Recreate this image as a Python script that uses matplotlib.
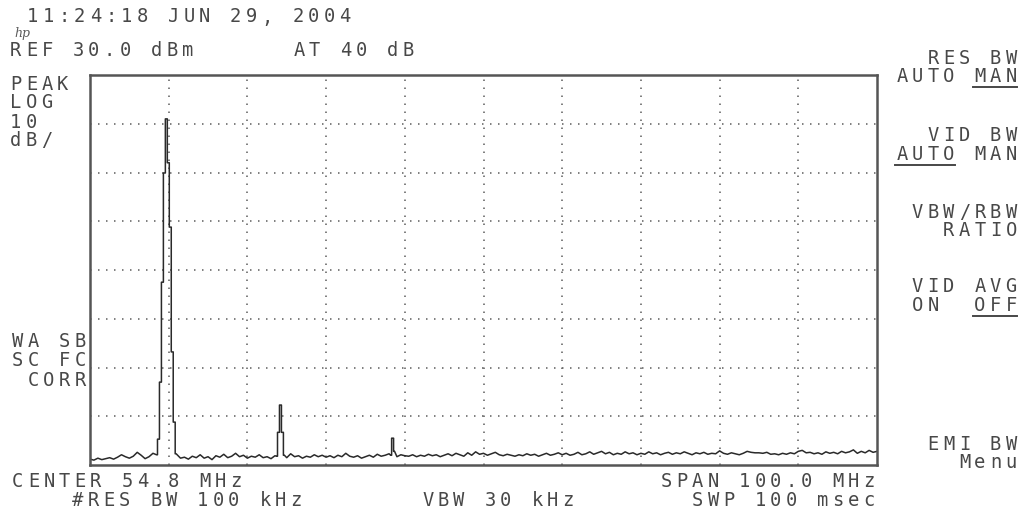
import matplotlib
matplotlib.use("Agg")
import matplotlib.pyplot as plt
from matplotlib.lines import Line2D
import numpy as np

W, H = 1020, 510

# sweep settings
center = 54.8   # MHz
span = 100.0    # MHz
ref_level = 30.0  # dBm
db_div = 10.0
n_vdiv = 8

# noise floor, one reading every 0.5 MHz from 4.8 to 104.8 MHz
noise_step = 0.5
noise = [
    -48.8, -49.0, -48.6, -48.9, -48.7, -48.5, -48.8, -48.4, -47.9, -48.3,
    -48.6, -48.2, -47.4, -48.0, -48.7, -48.3, -47.6, -48.2, -48.5, -48.4,
    -48.5, -48.3, -48.0, -48.6, -48.4, -48.8, -48.2, -48.5, -47.9, -48.6,
    -48.3, -48.9, -48.1, -48.4, -47.8, -48.5, -48.2, -47.6, -48.3, -48.0,
    -48.6, -48.2, -48.4, -47.9, -48.5, -48.3, -48.7, -48.1, -48.4, -48.0,
    -48.5, -47.7, -48.3, -48.1, -48.6, -48.2, -48.4, -47.9, -48.3, -48.0,
    -48.4, -48.1, -48.5, -48.0, -48.3, -47.6, -48.2, -48.4, -48.1, -48.6,
    -48.3, -48.0, -48.4, -47.8, -48.2, -48.0, -47.7, -48.1, -48.3, -47.9,
    -48.1, -48.2, -47.9, -48.3, -48.0, -48.2, -47.8, -48.1, -47.9, -48.3,
    -48.0, -47.7, -48.1, -47.6, -47.9, -48.2, -47.5, -48.0, -47.3, -47.8,
    -47.6, -48.0, -47.7, -47.4, -47.9, -48.1, -47.8, -48.0, -48.2, -47.9,
    -48.1, -47.7, -48.0, -47.8, -48.2, -47.9, -47.6, -48.0, -47.8, -47.5,
    -47.9, -47.6, -48.0, -47.8, -47.4, -47.9, -47.7, -47.3, -47.8, -47.5,
    -47.2, -47.7, -47.4, -47.9, -47.6, -47.8, -47.3, -47.7, -47.5, -47.9,
    -47.6, -47.8, -47.3, -47.7, -47.5, -47.9, -47.6, -47.4, -47.8, -47.5,
    -47.7, -47.3, -47.6, -47.9, -47.5, -47.7, -47.4, -47.8, -47.6, -47.7,
    -47.1, -47.6, -47.8, -47.5, -47.7, -47.9, -47.6, -47.2, -47.4, -47.5,
    -47.5, -47.6, -47.4, -47.8, -47.7, -47.9, -47.6, -47.8, -47.5, -47.7,
    -47.2, -47.0, -47.5, -47.4, -47.7, -47.5, -47.8, -47.3, -47.6, -47.4,
    -47.7, -47.2, -47.5, -47.3, -46.9, -47.6, -47.2, -47.5, -47.0, -47.4,
    -47.2,
]

# signals (MHz, dBm), sampled at the analyzer's 0.25 MHz bins
peak1_f = [13.25, 13.5, 13.75, 14.0, 14.25, 14.5, 14.75, 15.0, 15.25, 15.5, 15.75]
peak1_db = [-47.9, -44.7, -33.0, -12.5, 9.9, 21.0, 12.0, -1.2, -26.8, -41.2, -47.7]
peak2_f = [28.5, 28.75, 29.0, 29.25, 29.5]
peak2_db = [-48.2, -43.3, -37.7, -43.3, -48.0]
peak3_f = [43.0, 43.25, 43.5]
peak3_db = [-48.0, -44.5, -47.2]

f_start = center - span / 2
f_stop = center + span / 2
bottom_level = ref_level - n_vdiv * db_div


def staircase(f, db):
    # hold each bin's level across its width, like the instrument trace
    f = np.asarray(f, float)
    mids = (f[:-1] + f[1:]) / 2
    lo = np.concatenate([[f[0]], mids])
    hi = np.concatenate([mids, [f[-1]]])
    xs = np.column_stack([lo, hi]).ravel()
    ys = np.repeat(db, 2)
    return xs, ys


noise_f = f_start + noise_step * np.arange(len(noise))
noise = np.array(noise)
keep = np.ones(len(noise), bool)
parts_f, parts_db = [], []
for pf, pd in ((peak1_f, peak1_db), (peak2_f, peak2_db), (peak3_f, peak3_db)):
    keep &= ~((noise_f >= pf[0] - 0.1) & (noise_f <= pf[-1] + 0.1))
    sx, sy = staircase(pf, pd)
    parts_f.append(sx)
    parts_db.append(sy)
tr_f = np.concatenate([noise_f[keep]] + parts_f)
tr_db = np.concatenate([noise[keep]] + parts_db)
order = np.argsort(tr_f, kind="stable")
tr_f, tr_db = tr_f[order], tr_db[order]

fig = plt.figure(figsize=(W / 100, H / 100), dpi=100)
fig.patch.set_facecolor("white")

# graticule box in pixel coords
bx0, bx1, by0, by1 = 90, 877, 76, 466
ax = fig.add_axes([bx0 / W, 1 - by1 / H, (bx1 - bx0) / W, (by1 - by0) / H])
ax.set_xlim(f_start, f_stop)
ax.set_ylim(bottom_level, ref_level)
ax.set_xticks(np.linspace(f_start, f_stop, 11)[1:-1])
ax.set_yticks(np.arange(bottom_level + db_div, ref_level, db_div))
ax.tick_params(length=0, labelbottom=False, labelleft=False)
ax.grid(True, color="#6a6a6a", linestyle=(0, (0.9, 3.9)), linewidth=1.2)
for s in ax.spines.values():
    s.set_color("#555555")
    s.set_linewidth(1.8)

ax.plot(tr_f, tr_db, color="#2a2a2a", linewidth=1.1)

# screen annotations
PITCH = 15.6
font = dict(family="DejaVu Sans Mono", fontsize=13.5, color="#484848")


def label(x, y, s, align="left"):
    # draw a string on the instrument's fixed character grid
    if align == "right":
        x = x - len(s) * PITCH
    for i, ch in enumerate(s):
        if ch != " ":
            fig.text((x + (i + 0.5) * PITCH) / W, 1 - y / H, ch,
                     ha="center", va="center", **font)
    return x


def underline(x, y, start, n):
    x0 = x + start * PITCH + 1
    x1 = x + (start + n) * PITCH - 2
    fig.add_artist(Line2D([x0 / W, x1 / W], [1 - y / H, 1 - y / H],
                          color="#484848", linewidth=1.4))


label(25, 17, "11:24:18 JUN 29, 2004")
fig.text(14 / W, 1 - 34 / H, "hp", fontsize=9, style="italic",
         family="DejaVu Serif", color="#5a5a5a", va="center")
label(8, 51, "REF 30.0 dBm")
label(291, 51, "AT 40 dB")

for yy, s in zip([84, 103, 122, 141], ["PEAK", "LOG", "10", "dB/"]):
    label(8, yy, s)
for yy, s in zip([342, 361, 380], ["WA SB", "SC FC", "CORR"]):
    label(88, yy, s, align="right")

label(10, 482, "CENTER 54.8 MHz")
label(70, 501, "#RES BW 100 kHz")
label(420, 501, "VBW 30 kHz")
label(877, 482, "SPAN 100.0 MHz", align="right")
label(877, 501, "SWP 100 msec", align="right")

RX = 1019
label(RX, 59, "RES BW", align="right")
x = label(RX, 77, "AUTO MAN", align="right")
underline(x, 88, 5, 3)
label(RX, 136, "VID BW", align="right")
x = label(RX, 155, "AUTO MAN", align="right")
underline(x, 166, 0, 4)
label(RX, 213, "VBW/RBW", align="right")
label(RX, 231, "RATIO", align="right")
label(RX, 287, "VID AVG", align="right")
x = label(RX, 306, "ON  OFF", align="right")
underline(x, 317, 4, 3)
label(RX, 445, "EMI BW", align="right")
label(RX, 463, "Menu", align="right")

fig.savefig("out.png", dpi=100, facecolor="white")
